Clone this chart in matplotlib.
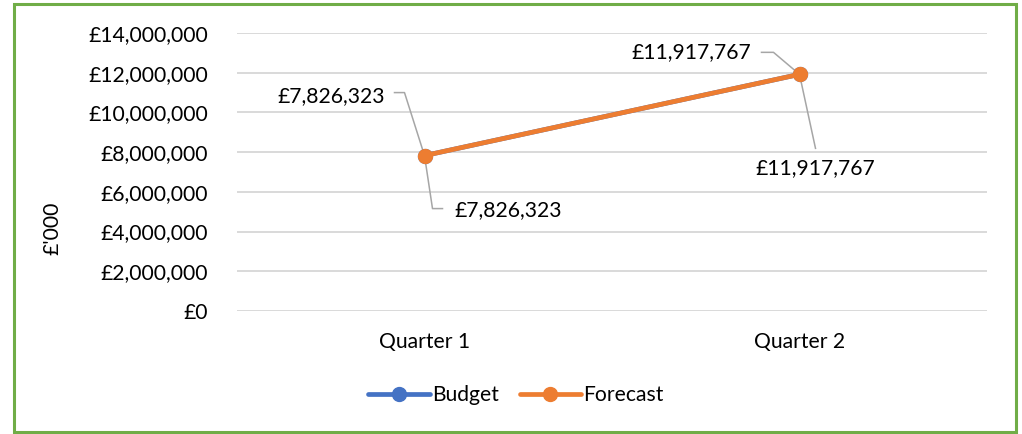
import matplotlib
matplotlib.use("Agg")
import matplotlib.pyplot as plt
import matplotlib.transforms as mtransforms
from matplotlib.ticker import FuncFormatter, MultipleLocator
from matplotlib.patches import Rectangle

categories = ["Quarter 1", "Quarter 2"]
budget = [7826323, 11917767]
forecast = [7826323, 11917767]

plt.rcParams['font.family'] = ['Lato', 'DejaVu Sans']
FS = 15.2
BLUE = "#4472C4"
ORANGE = "#ED7D31"
GRAY = "#A6A6A6"

fig = plt.figure(figsize=(10.22, 4.34), dpi=100)
W, H = 1022, 434
ax = fig.add_axes([237 / W, 1 - 311 / H, 750 / W, 278 / H])

x = list(range(len(categories)))
ax.plot(x, budget, color=BLUE, lw=3.4, marker='o', ms=10, solid_capstyle='round', label="Budget", zorder=3)
ax.plot(x, forecast, color=ORANGE, lw=3.4, marker='o', ms=10, solid_capstyle='round', label="Forecast", zorder=4)

ax.set_xlim(-0.5, len(categories) - 0.5)
ax.set_ylim(0, 14000000)
ax.yaxis.set_major_locator(MultipleLocator(2000000))
ax.yaxis.set_major_formatter(FuncFormatter(lambda v, p: f"£{v:,.0f}"))
ax.set_xticks(x)
ax.set_xticklabels(categories)
ax.tick_params(axis='both', length=0, labelsize=FS, colors='#000000')
ax.tick_params(axis='y', pad=21)
ax.tick_params(axis='x', pad=15)
ax.grid(axis='y', color='#D9D9D9', lw=1.4)
ax.set_axisbelow(True)
for s in ax.spines.values():
    s.set_visible(False)
fig.text(52 / W, 1 - 228 / H, "£'000", rotation=90, ha='center', va='center', fontsize=FS)

# data labels with leader lines (pixel offsets from the data point)
def label(xi, yi, text, leader, toff, ha):
    tr = mtransforms.Affine2D() + mtransforms.ScaledTranslation(xi, yi, ax.transData)
    lx = [p[0] for p in leader]
    ly = [p[1] for p in leader]
    ax.plot(lx, ly, color=GRAY, lw=1.1, transform=tr, zorder=2, clip_on=False)
    ax.annotate(text, (xi, yi), xytext=toff, textcoords='offset pixels',
                ha=ha, va='center', fontsize=FS, zorder=5, annotation_clip=False)

fmt = lambda v: f"£{v:,.0f}"
# Quarter 1
label(x[0], forecast[0], fmt(forecast[0]), [(-30, 63), (-20, 63), (0, 0)], (-40, 59), 'right')
label(x[0], budget[0], fmt(budget[0]), [(0, 0), (8, -53), (18, -53)], (30, -55), 'left')
# Quarter 2
label(x[1], forecast[1], fmt(forecast[1]), [(-38, 22), (-26, 22), (0, 0)], (-48, 22), 'right')
label(x[1], budget[1], fmt(budget[1]), [(0, 0), (16, -74)], (16, -94), 'center')

fig.legend(loc='center', bbox_to_anchor=(516 / W, 1 - 395 / H), ncol=2, frameon=False,
           fontsize=FS, handlelength=2.9, handletextpad=0.1, columnspacing=1.0)

fig.patches.append(Rectangle((14 / W, 1 - 432 / H), 1002 / W, 428 / H, transform=fig.transFigure,
                             fill=False, edgecolor='#70AD47', lw=2.2))

fig.savefig("out.png", dpi=100)
